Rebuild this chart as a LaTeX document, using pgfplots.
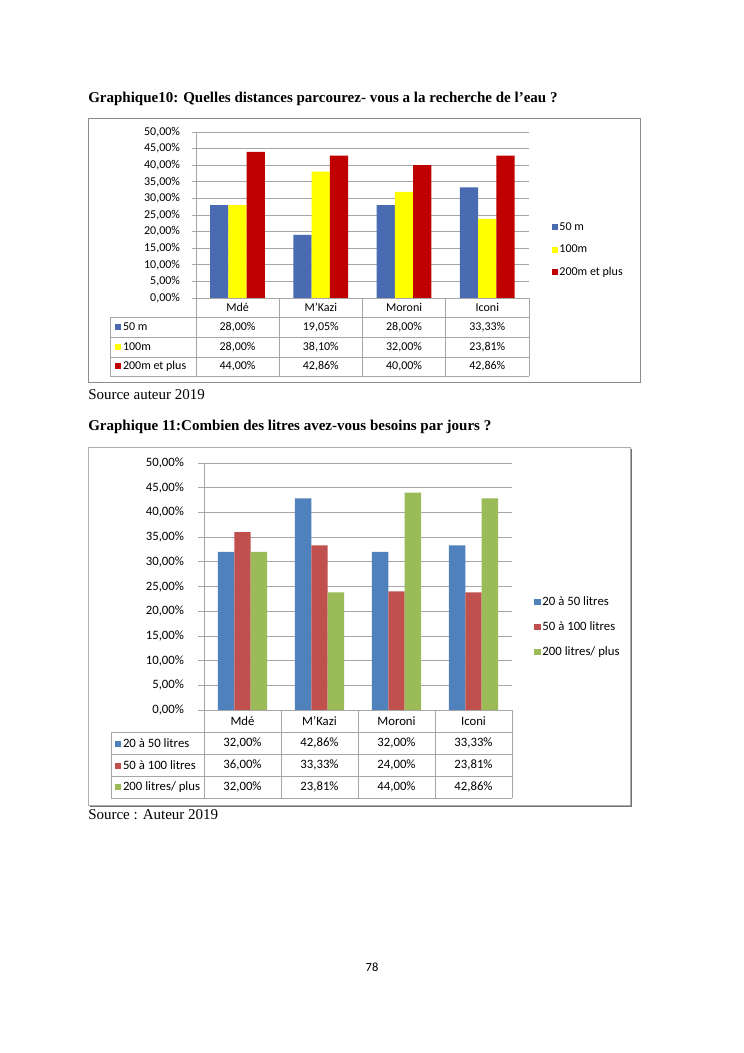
\documentclass[border=0pt]{standalone}
\usepackage{pgfplots}
\pgfplotsset{compat=1.18}
\usepackage{fontspec}
\setmainfont{Liberation Serif}
\newfontfamily\calibri{Carlito}
\definecolor{bA}{HTML}{4A6AB2}
\definecolor{yA}{HTML}{FFFF00}
\definecolor{rA}{HTML}{C00000}
\definecolor{bB}{HTML}{4F81BD}
\definecolor{rB}{HTML}{C0504D}
\definecolor{gB}{HTML}{9BBB59}
\definecolor{framec}{HTML}{8C8C8C}
\definecolor{gridc}{HTML}{A6A6A6}
\newcommand{\fA}{\calibri\fontsize{9.6}{11}\selectfont}
\newcommand{\fB}{\calibri\fontsize{10.2}{12}\selectfont}
\newcommand{\sq}[1]{\textcolor{#1}{\raisebox{0.4pt}{\rule{4.8pt}{4.8pt}}}\hspace{1.4pt}}
\begin{document}
\begin{tikzpicture}[x=0.8pt,y=-0.8pt]
\path[use as bounding box, fill=white] (0,0) rectangle (744,1053);

% ---------------- Chart 1 ----------------
\node[anchor=base west, inner sep=0pt, font=\bfseries\fontsize{12}{14}\selectfont] at (88,102)
  {Graphique10: Quelles distances parcourez- vous a la recherche de l’eau ?};
\draw[framec, line width=0.8pt] (88,118) rectangle (640,382);

\begin{axis}[at={(156.8pt,-238.4pt)}, anchor=south west, scale only axis,
  width=266.4pt, height=132.8pt,
  xmin=-0.5, xmax=3.5, ymin=0, ymax=50,
  ybar=0pt, bar width=14.6pt,
  axis x line=none, axis y line*=left,
  axis line style={gridc, line width=0.6pt},
  xtick=\empty,
  ytick={0,5,...,50},
  yticklabels={{0,00\%},{5,00\%},{10,00\%},{15,00\%},{20,00\%},{25,00\%},{30,00\%},{35,00\%},{40,00\%},{45,00\%},{50,00\%}},
  yticklabel style={font=\fA, inner ysep=1pt, inner xsep=9.4pt},
  ymajorgrids, grid style={gridc, line width=0.6pt},
  tick style={gridc, line width=0.6pt}, major tick length=3.2pt, tick align=outside,
  legend cell align=left,
  legend image code/.code={\fill[#1] (0pt,-2.4pt) rectangle (4.8pt,2.4pt);},
  legend style={draw=none, fill=none, at={(1.069,0.292)}, anchor=west, font=\fA,
    inner sep=0pt, row sep=9pt, column sep=1pt,
    nodes={inner sep=0pt, text height=7pt, text depth=2pt}},
]
\addplot[fill=bA, draw=none] coordinates {(0,28.00) (1,19.05) (2,28.00) (3,33.33)};
\addplot[fill=yA, draw=none] coordinates {(0,28.00) (1,38.10) (2,32.00) (3,23.81)};
\addplot[fill=rA, draw=none] coordinates {(0,44.00) (1,42.86) (2,40.00) (3,42.86)};
\legend{50 m, 100m, 200m et plus}
\end{axis}

% table 1
\begin{scope}[gridc, line width=0.6pt]
  \draw (196,298) -- (529,298);
  \foreach \y in {317,337,357,376} \draw (110,\y) -- (529,\y);
  \draw (110,317) -- (110,376);
  \foreach \x in {196,279.25,362.5,445.75,529} \draw (\x,298) -- (\x,376);
\end{scope}
\foreach \n [count=\i from 0] in {Mdé,M’Kazi,Moroni,Iconi}
  \node[font=\fA, inner sep=0pt] at (237.6+83.25*\i,307.5) {\n};
\foreach \v [count=\i from 0] in {{28,00\%},{19,05\%},{28,00\%},{33,33\%}}
  \node[font=\fA, inner sep=0pt] at (237.6+83.25*\i,327) {\v};
\foreach \v [count=\i from 0] in {{28,00\%},{38,10\%},{32,00\%},{23,81\%}}
  \node[font=\fA, inner sep=0pt] at (237.6+83.25*\i,347) {\v};
\foreach \v [count=\i from 0] in {{44,00\%},{42,86\%},{40,00\%},{42,86\%}}
  \node[font=\fA, inner sep=0pt] at (237.6+83.25*\i,366.5) {\v};
\node[font=\fA, inner sep=0pt, anchor=west] at (115,327) {\sq{bA}50 m};
\node[font=\fA, inner sep=0pt, anchor=west] at (115,347) {\sq{yA}100m};
\node[font=\fA, inner sep=0pt, anchor=west] at (115,366.5) {\sq{rA}200m et plus};

\node[anchor=base west, inner sep=0pt, font=\fontsize{12}{14}\selectfont] at (88,399) {Source auteur 2019};

% ---------------- Chart 2 ----------------
\node[anchor=base west, inner sep=0pt, font=\bfseries\fontsize{12}{14}\selectfont] at (88,430)
  {Graphique 11:Combien des litres avez-vous besoins par jours ?};
\draw[framec!80!black, line width=1.6pt] (631,449) -- (631,806) -- (90,806);
\draw[framec!70, line width=0.8pt] (88,447) rectangle (630,805);

\begin{axis}[at={(163.2pt,-568pt)}, anchor=south west, scale only axis,
  width=246.4pt, height=197.6pt,
  xmin=-0.5, xmax=3.5, ymin=0, ymax=50,
  ybar=0pt, bar width=13.1pt,
  axis x line=none, axis y line*=left,
  axis line style={gridc, line width=0.6pt},
  xtick=\empty,
  ytick={0,5,...,50},
  yticklabels={{0,00\%},{5,00\%},{10,00\%},{15,00\%},{20,00\%},{25,00\%},{30,00\%},{35,00\%},{40,00\%},{45,00\%},{50,00\%}},
  yticklabel style={font=\fB, inner ysep=1pt, inner xsep=11pt},
  ymajorgrids, grid style={gridc, line width=0.6pt},
  tick style={gridc, line width=0.6pt}, major tick length=4.8pt, tick align=outside,
  legend cell align=left,
  legend image code/.code={\fill[#1] (0pt,-2.6pt) rectangle (5.2pt,2.6pt);},
  legend style={draw=none, fill=none, at={(1.071,0.336)}, anchor=west, font=\fB,
    inner sep=0pt, row sep=11pt, column sep=1.5pt,
    nodes={inner sep=0pt, text height=7pt, text depth=2pt}},
]
\addplot[fill=bB, draw=none] coordinates {(0,32.00) (1,42.86) (2,32.00) (3,33.33)};
\addplot[fill=rB, draw=none] coordinates {(0,36.00) (1,33.33) (2,24.00) (3,23.81)};
\addplot[fill=gB, draw=none] coordinates {(0,32.00) (1,23.81) (2,44.00) (3,42.86)};
\legend{20 à 50 litres, 50 à 100 litres, 200 litres/ plus}
\end{axis}

% table 2
\begin{scope}[gridc, line width=0.6pt]
  \draw (204,710) -- (512,710);
  \foreach \y in {732,754,776,798} \draw (111,\y) -- (512,\y);
  \draw (111,732) -- (111,798);
  \foreach \x in {204,281,358,435,512} \draw (\x,710) -- (\x,798);
\end{scope}
\foreach \n [count=\i from 0] in {Mdé,M’Kazi,Moroni,Iconi}
  \node[font=\fB, inner sep=0pt] at (242.5+77*\i,721) {\n};
\foreach \v [count=\i from 0] in {{32,00\%},{42,86\%},{32,00\%},{33,33\%}}
  \node[font=\fB, inner sep=0pt] at (242.5+77*\i,743) {\v};
\foreach \v [count=\i from 0] in {{36,00\%},{33,33\%},{24,00\%},{23,81\%}}
  \node[font=\fB, inner sep=0pt] at (242.5+77*\i,765) {\v};
\foreach \v [count=\i from 0] in {{32,00\%},{23,81\%},{44,00\%},{42,86\%}}
  \node[font=\fB, inner sep=0pt] at (242.5+77*\i,787) {\v};
\node[font=\fB, inner sep=0pt, anchor=west] at (115,743) {\sq{bB}20 à 50 litres};
\node[font=\fB, inner sep=0pt, anchor=west] at (115,765) {\sq{rB}50 à 100 litres};
\node[font=\fB, inner sep=0pt, anchor=west] at (115,787) {\sq{gB}200 litres/ plus};

\node[anchor=base west, inner sep=0pt, font=\fontsize{12}{14}\selectfont] at (88,819) {Source : Auteur 2019};

\node[anchor=base, inner sep=0pt, font=\calibri\fontsize{10}{12}\selectfont] at (372,971) {78};
\end{tikzpicture}
\end{document}
